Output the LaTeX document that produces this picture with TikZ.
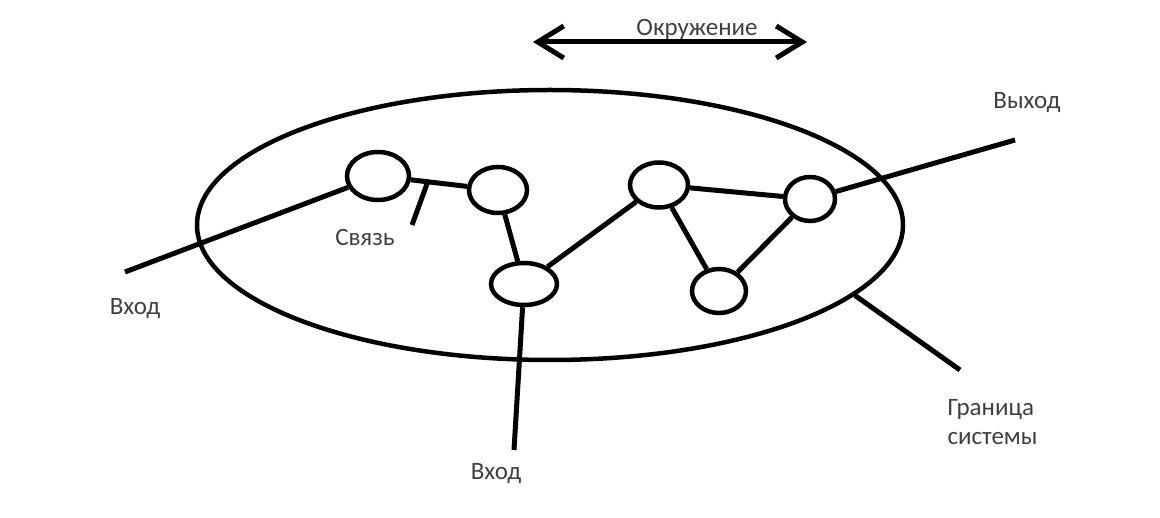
\documentclass[tikz,border=0pt]{standalone}
\usepackage{fontspec}
\setmainfont{Carlito}
\usetikzlibrary{shapes.geometric,arrows.meta}

\begin{document}
\begin{tikzpicture}[x=1pt, y=-1pt,
    elem/.style={ellipse, draw, line width=4.5pt, inner sep=0pt},
    link/.style={line width=5pt},
    lbl/.style={text=black!75, font=\fontsize{25}{29}\selectfont},
    barb/.tip={Straight Barb[length=26pt, width=32pt]}]
    \useasboundingbox (0,0) rectangle (1160,518);
    % system boundary and its elements
    \node[elem, minimum width=706pt, minimum height=270pt] (sys) at (550,225) {};
    \node[elem, minimum width=62pt, minimum height=48pt] (e1) at (378,176) {};
    \node[elem, minimum width=58pt, minimum height=46pt] (e2) at (498,190) {};
    \node[elem, minimum width=66pt, minimum height=42pt] (e3) at (524,284) {};
    \node[elem, minimum width=58pt, minimum height=45pt] (e4) at (659,185) {};
    \node[elem, minimum width=50pt, minimum height=44pt] (e5) at (810,199) {};
    \node[elem, minimum width=54pt, minimum height=44pt] (e6) at (719,291) {};
    % free ends
    \coordinate (in1) at (125,272);
    \coordinate (in2) at (514,450);
    \coordinate (out) at (1015,140);
    \coordinate (bnd) at (960,370);
    \coordinate (sv) at (412,225);
    \coordinate (envl) at (533,42);
    \coordinate (envr) at (807,42);
    \path[link]
    (in1) edge (e1)
    (e2) edge (e3)
    (e3) edge (e4)
    (e3) edge (in2)
    (e4) edge (e5)
    (e4) edge (e6)
    (e5) edge (e6)
    (e5) edge (out)
    (sys.-13) edge (bnd)
    ;
    \draw[link] (e1) -- coordinate[pos=0.3] (tick) (e2);
    \draw[link] (tick) -- (sv);
    \draw[link, barb-barb] (envl) -- (envr);
    % labels
    \node[lbl] at (697,29) {Окружение};
    \node[lbl] at (1027,103) {Выход};
    \node[lbl] at (365,237) {Связь};
    \node[lbl] at (135,309) {Вход};
    \node[lbl] at (496,474) {Вход};
    \node[lbl, align=left, anchor=west] at (944,422) {Граница\\системы};
\end{tikzpicture}
\end{document}
